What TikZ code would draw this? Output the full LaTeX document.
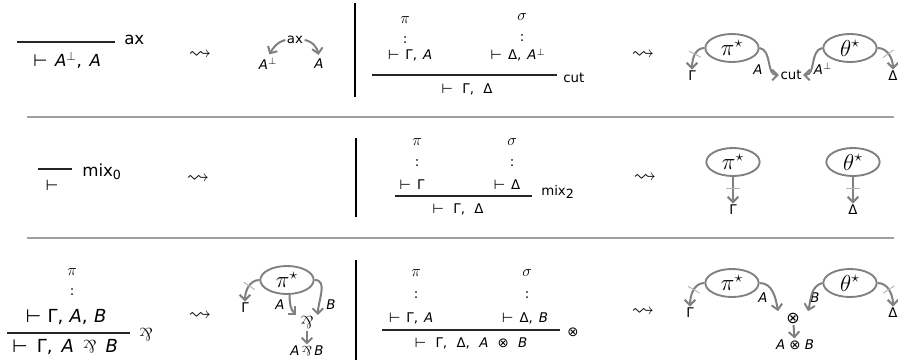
\documentclass[tikz,border=0pt]{standalone}
\usepackage{fontspec}
\usepackage{amssymb}
\usepackage{graphicx}
\usetikzlibrary{arrows.meta,shapes.geometric,decorations.markings}
\newfontfamily\dv{DejaVu Sans}
\definecolor{netgray}{RGB}{128,128,128}
\definecolor{rulegray}{RGB}{160,160,160}
\newcommand{\Ait}{\textit{A}}
\newcommand{\Bit}{\textit{B}}
\newcommand{\parrsym}{\rotatebox[origin=c]{180}{\rmfamily\&}}
\newcommand{\lowsub}[1]{\raisebox{-0.3ex}{\fontsize{9.5}{11}\selectfont #1}}
\tikzset{
  lbl/.style={font=\dv\fontsize{10}{12}\selectfont, inner sep=0pt, execute at begin node={\spaceskip=0.45em\relax}},
  concl/.style={font=\dv\fontsize{10}{12}\selectfont, inner sep=0pt, execute at begin node={\spaceskip=0.7em\relax}},
  prf/.style={font=\fontsize{12.5}{14}\selectfont, inner sep=0pt},
  leads/.style={font=\fontsize{17}{19}\selectfont, inner sep=0pt},
  big/.style={font=\dv\fontsize{12.5}{14}\selectfont, inner sep=0pt, execute at begin node={\spaceskip=0.45em\relax}},
  huge/.style={font=\dv\fontsize{13.5}{15}\selectfont, inner sep=0pt, execute at begin node={\spaceskip=0.35em\relax}},
  hugec/.style={font=\dv\fontsize{13.5}{15}\selectfont, inner sep=0pt, execute at begin node={\spaceskip=0.5em\relax}},
  netlbl/.style={font=\dv\fontsize{10}{12}\selectfont, inner sep=1pt},
  cell/.style={ellipse, draw=netgray, line width=1.4pt, minimum width=40pt, minimum height=21pt, inner sep=0pt, font=\fontsize{17}{19}\selectfont},
  wire/.style={draw=netgray, line width=1.5pt, -{Straight Barb[length=4pt,width=8pt]}},
  tick/.style={postaction={decorate, decoration={markings, mark=at position 0.43 with {\draw[netgray!60, line width=0.7pt, arrows=-] (0,-5pt) -- (0,5pt);}}}},
  seprule/.style={draw=rulegray, line width=0.9pt},
  vsep/.style={draw=black, line width=1pt},
  infer/.style={draw=black!85, line width=0.9pt},
}
\begin{document}
\begin{tikzpicture}[x=0.75pt,y=-0.75pt]
\useasboundingbox (0,0) rectangle (898,360);
% separators
\draw[seprule] (27,117) -- (894,117);
\draw[seprule] (27,238) -- (894,238);
\draw[vsep] (355,3) -- (355,97);
\draw[vsep] (356,138) -- (356,217);
\draw[vsep] (356,260) -- (356,360);

% ---------- row 1: axiom ----------
\draw[infer] (17,42) -- (115,42);
\node[big] (axc) at (67,60) {⊢ \Ait$^{\perp}$, \Ait};
\node[big, anchor=west] (axn) at (124,40) {ax};
\node[leads] (ld1) at (200,55) {$\leadsto$};
\node[netlbl] (axl) at (295,40) {ax};
\node[netlbl] (ap) at (268,64) {\Ait$^{\perp}$};
\node[netlbl] (a1) at (319,64) {\Ait};
\draw[wire, shorten >=2pt] (axl.west) to[out=195,in=60] (ap.north);
\draw[wire, shorten >=2pt] (axl.east) to[out=-10,in=100] (a1.north);

% ---------- row 1: cut ----------
\node[prf] (p1) at (405,20) {$\pi$};
\node[lbl] (v1) at (405,40) {:};
\node[lbl] (g1) at (410,55) {⊢ Γ, \Ait};
\node[prf] (s1) at (522,17) {$\sigma$};
\node[lbl] (v2) at (522,38) {:};
\node[lbl] (d1) at (518,55) {⊢ Δ, \Ait$^{\perp}$};
\draw[infer] (372,75) -- (557,75);
\node[lbl, anchor=west] (cutn) at (563,78) {cut};
\node[concl] (c1) at (467,89) {⊢ Γ, Δ};
\node[leads] (ld2) at (643,55) {$\leadsto$};
\node[cell] (pi1) at (732,48) {$\pi^\star$};
\node[cell] (th1) at (850,48) {$\theta^\star$};
\node[netlbl] (G1) at (692,76) {Γ};
\node[netlbl] (cutl) at (791,75) {cut};
\node[netlbl] (D1) at (893,76) {Δ};
\node[netlbl] (la1) at (758,70) {\Ait};
\node[netlbl] (lb1) at (823,69) {\Ait$^{\perp}$};
\draw[wire,tick] (pi1.west) to[out=180,in=90] (G1.north);
\draw[wire] (pi1.east) to[out=-10,in=180] (cutl.west);
\draw[wire] (th1.west) to[out=190,in=0] (cutl.east);
\draw[wire,tick] (th1.east) to[out=0,in=90] (D1.north);

% ---------- row 2: mix ----------
\draw[infer] (38,169) -- (72,169);
\node[font=\dv\fontsize{11}{13}\selectfont, inner sep=0pt] (v0) at (52,185) {⊢};
\node[big, anchor=west] (mix0) at (82,172) {mix\lowsub{0}};
\node[leads] (ld3) at (198,179) {$\leadsto$};
\node[prf] (p2) at (417,142) {$\pi$};
\node[lbl] (v3) at (417,163) {:};
\node[lbl] (g2) at (412,185) {⊢ Γ};
\node[prf] (s2) at (512,142) {$\sigma$};
\node[lbl] (v4) at (512,163) {:};
\node[lbl] (d2) at (507,185) {⊢ Δ};
\draw[infer] (395,196) -- (532,196);
\node[lbl, anchor=west] (mix2) at (541,192) {mix\lowsub{2}};
\node[concl] (c2) at (458,209) {⊢ Γ, Δ};
\node[leads] (ld4) at (645,178) {$\leadsto$};
\node[cell] (pi2) at (733,162) {$\pi^\star$};
\node[cell] (th2) at (853,162) {$\theta^\star$};
\node[netlbl] (G2) at (733,210) {Γ};
\node[netlbl] (D2) at (853,210) {Δ};
\draw[wire,tick] (pi2) -- (G2);
\draw[wire,tick] (th2) -- (D2);

% ---------- row 3: par ----------
\node[prf] (p3) at (72,272) {$\pi$};
\node[lbl] (v5) at (72,292) {:};
\node[huge] (g3) at (66,317) {⊢ Γ, \Ait, \Bit};
\draw[infer] (7,333) -- (130,333);
\node[huge, anchor=west] (parn) at (139,335) {\parrsym};
\node[hugec] (c3) at (65,347) {⊢ Γ, \Ait\ \parrsym\ \Bit};
\node[leads] (ld5) at (200,316) {$\leadsto$};
\node[cell] (pi3) at (287,280) {$\pi^\star$};
\node[netlbl] (G3) at (245,308) {Γ};
\node[netlbl] (la3) at (280,305) {\Ait};
\node[netlbl] (lb3) at (331,305) {\Bit};
\node[netlbl, inner xsep=3pt, font=\fontsize{13}{15}\selectfont] (par) at (307,323) {\parrsym};
\node[netlbl] (apb) at (307,351) {\Ait\,\parrsym\,\Bit};
\draw[wire,tick] (pi3.west) to[out=180,in=90] (G3.north);
\draw[wire] (pi3.-80) to[out=-90,in=135] (par.north west);
\draw[wire] (pi3.east) to[out=0,in=90] (par.north east);
\draw[wire] (par) -- (apb);

% ---------- row 3: tensor ----------
\node[prf] (p4) at (416,273) {$\pi$};
\node[lbl] (v6) at (416,295) {:};
\node[lbl] (g4) at (411,318) {⊢ Γ, \Ait};
\node[prf] (s4) at (527,273) {$\sigma$};
\node[lbl] (v7) at (527,295) {:};
\node[lbl] (d4) at (525,318) {⊢ Δ, \Bit};
\draw[infer] (382,330) -- (560,330);
\node[lbl, anchor=west] (tn) at (567,332) {⊗};
\node[concl] (c4) at (471,343) {⊢ Γ, Δ, \Ait\ ⊗ \Bit};
\node[leads] (ld6) at (643,312) {$\leadsto$};
\node[cell] (pi4) at (732,283) {$\pi^\star$};
\node[cell] (th4) at (850,283) {$\theta^\star$};
\node[netlbl] (G4) at (690,313) {Γ};
\node[netlbl] (D4) at (893,313) {Δ};
\node[netlbl] (la4) at (763,298) {\Ait};
\node[netlbl] (lb4) at (815,298) {\Bit};
\node[netlbl, inner xsep=6pt, font=\dv\fontsize{12}{14}\selectfont] (ten) at (793,318) {⊗};
\node[netlbl] (aob) at (795,345) {\Ait\ ⊗ \Bit};
\draw[wire,tick] (pi4.west) to[out=180,in=90] (G4.north);
\draw[wire] (pi4.east) to[out=0,in=100] (ten.north west);
\draw[wire] (th4.west) to[out=195,in=75] (ten.north east);
\draw[wire,tick] (th4.east) to[out=0,in=90] (D4.north);
\draw[wire] (ten) -- (aob);
\end{tikzpicture}
\end{document}
